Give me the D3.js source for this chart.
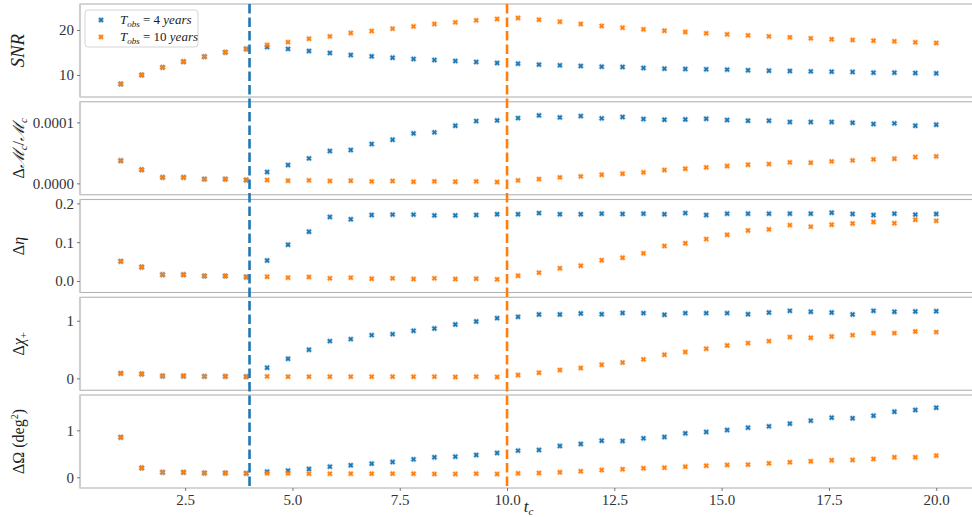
<!DOCTYPE html>
<html><head><meta charset="utf-8">
<script src="https://cdn.jsdelivr.net/npm/d3@7"></script>
<style>
body{margin:0;background:#fff;}
</style></head>
<body><svg id="c" width="972" height="517"></svg>
<script>
const tc = [1,1.487,1.974,2.462,2.949,3.436,3.923,4.410,4.897,5.385,5.872,6.359,6.846,7.333,7.821,8.308,8.795,9.282,9.769,10.256,10.744,11.231,11.718,12.205,12.692,13.179,13.667,14.154,14.641,15.128,15.615,16.103,16.590,17.077,17.564,18.051,18.538,19.026,19.513,20];

const snr4 = [8.0,10.0,11.7,12.96,14.07,15.04,15.78,16.2,15.8,15.33,14.89,14.44,14.15,13.85,13.56,13.33,13.11,12.89,12.67,12.52,12.3,12.15,12.0,11.85,11.78,11.56,11.41,11.33,11.26,11.19,11.04,10.96,10.89,10.81,10.74,10.67,10.52,10.52,10.44,10.37];
const snr10 = [8.0,10.0,11.7,12.96,14.07,15.04,15.78,16.7,17.3,18.07,18.59,19.33,19.78,20.3,20.8,21.33,21.7,22.15,22.44,22.67,22.3,21.85,21.33,20.89,20.52,20.15,19.85,19.56,19.26,19.04,18.81,18.59,18.37,18.15,17.93,17.78,17.63,17.48,17.26,17.11];

const mc4 = [0.371e-4,0.223e-4,0.098e-4,0.098e-4,0.07e-4,0.07e-4,0.054e-4,0.185e-4,0.30e-4,0.409e-4,0.53e-4,0.546e-4,0.644e-4,0.715e-4,0.819e-4,0.836e-4,0.945e-4,1.021e-4,1.032e-4,1.07e-4,1.114e-4,1.081e-4,1.103e-4,1.065e-4,1.087e-4,1.054e-4,1.043e-4,1.048e-4,1.059e-4,1.038e-4,1.027e-4,1.027e-4,1.005e-4,1.005e-4,1.005e-4,0.994e-4,0.972e-4,0.983e-4,0.945e-4,0.961e-4];
const mc10 = [0.371e-4,0.223e-4,0.098e-4,0.098e-4,0.07e-4,0.07e-4,0.054e-4,0.054e-4,0.043e-4,0.049e-4,0.038e-4,0.043e-4,0.032e-4,0.038e-4,0.027e-4,0.032e-4,0.027e-4,0.032e-4,0.021e-4,0.049e-4,0.07e-4,0.098e-4,0.114e-4,0.141e-4,0.158e-4,0.18e-4,0.218e-4,0.24e-4,0.262e-4,0.284e-4,0.305e-4,0.316e-4,0.344e-4,0.338e-4,0.36e-4,0.377e-4,0.393e-4,0.404e-4,0.431e-4,0.442e-4];

const eta4 = [0.0507,0.036,0.0163,0.0163,0.0129,0.0129,0.0103,0.053,0.0936,0.127,0.165,0.159,0.170,0.171,0.171,0.169,0.169,0.170,0.172,0.172,0.175,0.172,0.172,0.1735,0.1727,0.1735,0.172,0.175,0.170,0.1735,0.1735,0.1735,0.1735,0.1735,0.176,0.1727,0.170,0.1735,0.171,0.1727];
const eta10 = [0.0507,0.036,0.0163,0.0163,0.0129,0.0129,0.0103,0.011,0.0086,0.0103,0.0069,0.0086,0.006,0.0069,0.0052,0.0069,0.0052,0.006,0.0043,0.0137,0.0215,0.0327,0.0395,0.0533,0.0601,0.0713,0.0902,0.0971,0.108,0.119,0.130,0.133,0.144,0.140,0.145,0.148,0.152,0.149,0.158,0.155];

const chi4 = [0.086,0.075,0.04,0.04,0.034,0.034,0.029,0.184,0.34,0.496,0.646,0.681,0.750,0.768,0.826,0.866,0.935,0.987,1.045,1.068,1.109,1.109,1.126,1.114,1.135,1.132,1.103,1.132,1.132,1.132,1.114,1.143,1.172,1.155,1.143,1.109,1.172,1.155,1.161,1.166];
const chi10 = [0.086,0.075,0.04,0.04,0.034,0.034,0.029,0.034,0.029,0.029,0.029,0.029,0.029,0.029,0.029,0.029,0.023,0.029,0.023,0.057,0.098,0.144,0.179,0.236,0.274,0.329,0.410,0.456,0.514,0.571,0.612,0.646,0.716,0.704,0.727,0.750,0.785,0.785,0.814,0.802];

const om4 = [0.851,0.198,0.106,0.106,0.091,0.091,0.084,0.12,0.141,0.177,0.226,0.255,0.29,0.326,0.382,0.425,0.439,0.474,0.517,0.567,0.581,0.666,0.709,0.779,0.772,0.829,0.857,0.935,0.964,1.006,1.056,1.084,1.141,1.205,1.269,1.255,1.311,1.396,1.432,1.481];
const om10 = [0.851,0.198,0.106,0.106,0.091,0.091,0.084,0.084,0.084,0.077,0.077,0.077,0.077,0.077,0.077,0.070,0.070,0.077,0.070,0.084,0.091,0.106,0.127,0.155,0.170,0.191,0.205,0.226,0.247,0.262,0.269,0.297,0.319,0.340,0.361,0.368,0.389,0.425,0.425,0.460];

const xTicks = [2.5,5.0,7.5,10.0,12.5,15.0,17.5,20.0];
const vLines = [4, 10];
const seriesNames = ["4 years","10 years"];
const colors = ["#1f77b4","#ff7f0e"];

const panels = [
  {a:snr4,b:snr10,dom:[5.11,25.78],ticks:[10,20],fmt:d3.format("d")},
  {a:mc4,b:mc10,dom:[-0.187e-4,1.338e-4],ticks:[0,0.0001],fmt:d3.format(".4f")},
  {a:eta4,b:eta10,dom:[-0.0296,0.21],ticks:[0,0.1,0.2],fmt:d3.format(".1f")},
  {a:chi4,b:chi10,dom:[-0.207,1.408],ticks:[0,1],fmt:d3.format("d")},
  {a:om4,b:om10,dom:[-0.228,1.751],ticks:[0,1],fmt:d3.format("d")}
];

const SERIF = "'Liberation Serif','DejaVu Serif',serif";
const svg = d3.select("#c");
const L = 80, R = 977, pTop = 4, pH = 93, pStep = 97.75;
const x = d3.scaleLinear().domain([0.05,20.95]).range([L,R]);
const marker = d3.symbol().type(d3.symbolCross).size(15);

function styleTicks(sel){
  sel.select(".domain").remove();
  sel.selectAll(".tick line").attr("stroke","#555").attr("stroke-width",0.8);
  sel.selectAll(".tick text").style("font-family",SERIF).style("font-size","15px").style("fill","#333");
}

panels.forEach((p,k)=>{
  const top = pTop + k*pStep, bot = top + pH;
  const y = d3.scaleLinear().domain(p.dom).range([bot,top]);
  const g = svg.append("g");
  g.append("rect").attr("x",L).attr("y",top).attr("width",R-L).attr("height",pH)
    .attr("fill","none").attr("stroke","#b3b3b3").attr("stroke-width",1.1);
  g.append("line").attr("x1",L).attr("x2",L).attr("y1",top).attr("y2",bot)
    .attr("stroke","#cfcfcf").attr("stroke-width",2.2);
  const ax = g.append("g").attr("transform",`translate(${L},0)`)
    .call(d3.axisLeft(y).tickValues(p.ticks).tickFormat(p.fmt).tickSize(3).tickPadding(3));
  styleTicks(ax);
  if (k===4){
    const bx = g.append("g").attr("transform",`translate(0,${bot})`)
      .call(d3.axisBottom(x).tickValues(xTicks).tickFormat(d3.format(".1f")).tickSize(3).tickPadding(3));
    styleTicks(bx);
  }
  [p.a,p.b].forEach((arr,si)=>{
    g.append("g").selectAll("path").data(arr).join("path")
      .attr("d",marker)
      .attr("transform",(d,i)=>`translate(${x(tc[i])},${y(d)}) rotate(45)`)
      .attr("fill",colors[si]).attr("stroke",colors[si]).attr("stroke-opacity",0.3).attr("stroke-width",1.3);
  });
});

// vertical dashed lines
const yTop = pTop, yBot = pTop + 4*pStep + pH;
vLines.forEach((v,i)=>{
  svg.append("line").attr("x1",x(v)).attr("x2",x(v)).attr("y1",yTop).attr("y2",yBot)
    .attr("stroke",colors[i]).attr("stroke-width",2.6).attr("stroke-dasharray","9.5,4");
});

// y labels (centered by measuring)
function ylab(k, build, fs){
  const cy = pTop + k*pStep + pH/2;
  const g = svg.append("g").attr("transform",`translate(24,${cy}) rotate(-90)`);
  const t = g.append("text").attr("x",0).attr("y",0)
    .style("font-family",SERIF).style("font-size",fs+"px").style("fill","#222");
  build(t);
  const bb = t.node().getBBox();
  t.attr("x", -bb.width/2);
}
ylab(0,t=>t.append("tspan").style("font-style","italic").text("SNR"),19);
ylab(1,t=>{
  t.append("tspan").text("Δ");
  t.append("tspan").style("font-family","'DejaVu Serif',serif").style("font-style","italic").text("ℳ");
  t.append("tspan").style("font-style","italic").style("font-size","11px").attr("dy",3).text("c");
  t.append("tspan").attr("dy",-3).text("/");
  t.append("tspan").style("font-family","'DejaVu Serif',serif").style("font-style","italic").text("ℳ");
  t.append("tspan").style("font-style","italic").style("font-size","11px").attr("dy",3).text("c");
},16);
ylab(2,t=>{ t.append("tspan").text("Δ"); t.append("tspan").style("font-style","italic").text("η"); },16);
ylab(3,t=>{ t.append("tspan").text("Δ"); t.append("tspan").style("font-style","italic").text("χ");
  t.append("tspan").style("font-size","11px").attr("dy",3).text("+"); },16);
ylab(4,t=>{ t.append("tspan").text("ΔΩ (deg"); t.append("tspan").style("font-size","10px").attr("dy",-6).text("2");
  t.append("tspan").attr("dy",6).text(")"); },16);

// x label
const xl = svg.append("text").attr("x",(L+R)/2).attr("y",512).attr("text-anchor","middle")
  .style("font-family",SERIF).style("font-size","17px").style("fill","#222");
xl.append("tspan").style("font-style","italic").text("t");
xl.append("tspan").style("font-style","italic").style("font-size","11px").attr("dy",3).text("c");

// legend
const lg = svg.append("g");
lg.append("rect").attr("x",85).attr("y",10).attr("width",113).attr("height",37).attr("rx",3)
  .attr("fill","#fff").attr("fill-opacity",0.85).attr("stroke","#d5d5d5").attr("stroke-width",1);
seriesNames.forEach((n,i)=>{
  const yy = 20 + i*17;
  lg.append("path").attr("d",marker).attr("transform",`translate(101,${yy}) rotate(45)`)
    .attr("fill",colors[i]).attr("stroke",colors[i]).attr("stroke-opacity",0.3).attr("stroke-width",1.3);
  const num = n.split(" ")[0], word = n.split(" ")[1];
  const t = lg.append("text").attr("x",120).attr("y",yy+4)
    .style("font-family",SERIF).style("font-size","13px").style("fill","#222");
  t.append("tspan").style("font-style","italic").text("T");
  t.append("tspan").style("font-style","italic").style("font-size","9px").attr("dy",3).text("obs");
  t.append("tspan").attr("dy",-3).text(" = " + num + " ");
  t.append("tspan").style("font-style","italic").text(word);
});
</script></body></html>
